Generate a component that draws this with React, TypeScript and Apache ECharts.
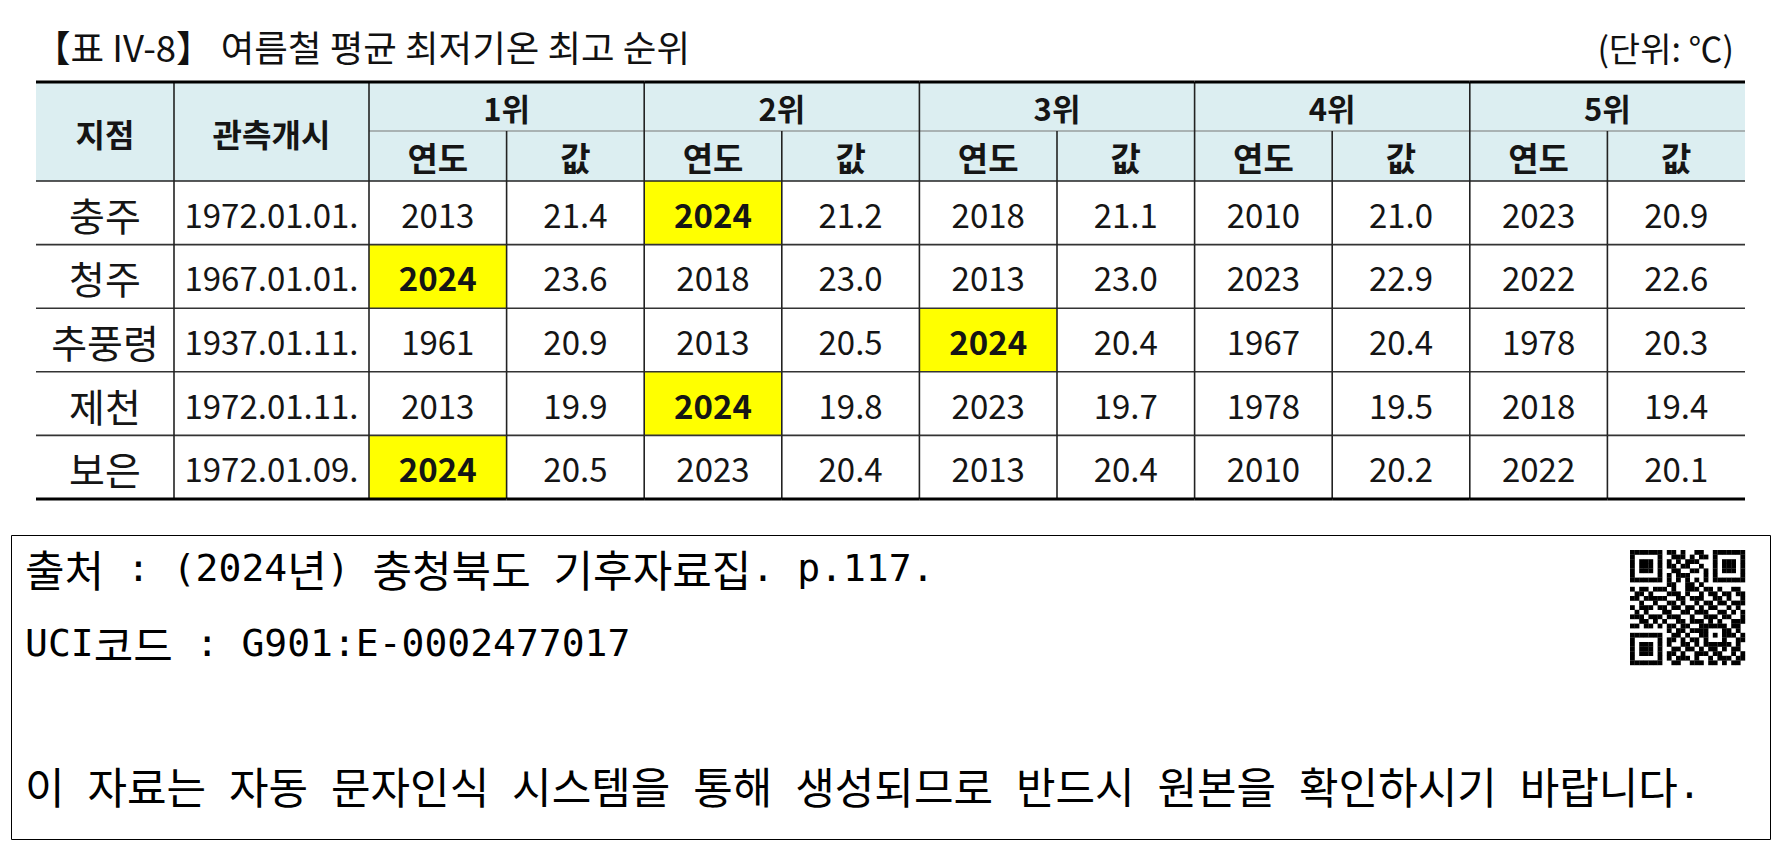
import React, { useEffect, useRef } from "react";
import * as echarts from "echarts";

// ---------- data ----------
const titleText = "【표 IV-8】 여름철 평균 최저기온 최고 순위";
const unitText = "(단위: ℃)";
const headerLabels = ["지점", "관측개시"];
const rankLabels = ["1위", "2위", "3위", "4위", "5위"];
const subHeaders = ["연도", "값"];
const stations = ["충주", "청주", "추풍령", "제천", "보은"];
const startDates = ["1972.01.01.", "1967.01.01.", "1937.01.11.", "1972.01.11.", "1972.01.09."];
const rankYears = [
  [2013, 2024, 2018, 2010, 2023],
  [2024, 2018, 2013, 2023, 2022],
  [1961, 2013, 2024, 1967, 1978],
  [2013, 2024, 2023, 1978, 2018],
  [2024, 2023, 2013, 2010, 2022],
];
const rankValues = [
  [21.4, 21.2, 21.1, 21.0, 20.9],
  [23.6, 23.0, 23.0, 22.9, 22.6],
  [20.9, 20.5, 20.4, 20.4, 20.3],
  [19.9, 19.8, 19.7, 19.5, 19.4],
  [20.5, 20.4, 20.4, 20.2, 20.1],
];
const highlightYear = 2024;
const footerSource = "출처 : (2024년) 충청북도 기후자료집. p.117.";
const footerUci = "UCI코드 : G901:E-0002477017";
const footerNote = "이 자료는 자동 문자인식 시스템을 통해 생성되므로 반드시 원본을 확인하시기 바랍니다.";
const qrRows = [
  "1111111011010011001111111",
  "1000001001110101101000001",
  "1011101010101110001011101",
  "1011101011011001001011101",
  "1011101001100110101011101",
  "1000001010111000101000001",
  "1111111010101010101111111",
  "0000000011001101000000000",
  "1011011101001110110100110",
  "0110100011101001011011011",
  "1101111100110111001101001",
  "0010010011010010110110111",
  "1011101101101101011001010",
  "0101000110011011100110101",
  "1110111011100100111011001",
  "0011010100110111010100111",
  "1101101011011001111110110",
  "0000000010110111100011010",
  "1111111001101001101011101",
  "1000001011010110100010011",
  "1011101010011010111111010",
  "1011101001101101011010110",
  "1011101011010011101100101",
  "1000001010111010010111011",
  "1111111001100111011010110",
];

// ---------- layout ----------
const TABLE_LEFT = 36;
const TABLE_TOP = 82;
const COL_W = [138, 195, 137.6, 137.6, 137.6, 137.6, 137.6, 137.6, 137.6, 137.6, 137.6, 137.6];
const HEAD1_H = 49;
const HEAD2_H = 50;
const ROW_H = 63.6;
const TABLE_W = COL_W.reduce((a, b) => a + b, 0);
const TABLE_H = HEAD1_H + HEAD2_H + ROW_H * stations.length;
const colX: number[] = [0];
COL_W.forEach((w) => colX.push(colX[colX.length - 1] + w));

const FONT = '"Noto Sans CJK KR", "Noto Sans", sans-serif';
const HEAD_FILL = "#DCEEF1";
const YELLOW = "#FFFF00";

type Cell = {
  x0: number; x1: number; y0: number; y1: number;
  text: string; fill: string; bold: boolean; size: number;
  bottomW: number; bottomC: string; top: boolean;
};

function buildCells(): Cell[] {
  const cells: Cell[] = [];
  const headBottom = HEAD1_H + HEAD2_H;
  headerLabels.forEach((t, i) => {
    cells.push({ x0: colX[i], x1: colX[i + 1], y0: 0, y1: headBottom, text: t, fill: HEAD_FILL, bold: true, size: 32, bottomW: 1.6, bottomC: "#222", top: true });
  });
  rankLabels.forEach((t, k) => {
    const c = 2 + k * 2;
    cells.push({ x0: colX[c], x1: colX[c + 2], y0: 0, y1: HEAD1_H, text: t, fill: HEAD_FILL, bold: true, size: 31, bottomW: 1.2, bottomC: "#777", top: true });
    subHeaders.forEach((s, j) => {
      cells.push({ x0: colX[c + j], x1: colX[c + j + 1], y0: HEAD1_H, y1: headBottom, text: s, fill: HEAD_FILL, bold: true, size: 33, bottomW: 1.6, bottomC: "#222", top: false });
    });
  });
  stations.forEach((st, r) => {
    const y0 = headBottom + r * ROW_H;
    const y1 = y0 + ROW_H;
    const last = r === stations.length - 1;
    const bw = last ? 3.2 : 1.6;
    const bc = last ? "#000" : "#333";
    cells.push({ x0: colX[0], x1: colX[1], y0, y1, text: st, fill: "#fff", bold: false, size: 39, bottomW: bw, bottomC: bc, top: false });
    cells.push({ x0: colX[1], x1: colX[2], y0, y1, text: startDates[r], fill: "#fff", bold: false, size: 33, bottomW: bw, bottomC: bc, top: false });
    for (let k = 0; k < 5; k++) {
      const c = 2 + k * 2;
      const yr = rankYears[r][k];
      const hl = yr === highlightYear;
      cells.push({ x0: colX[c], x1: colX[c + 1], y0, y1, text: String(yr), fill: hl ? YELLOW : "#fff", bold: hl, size: 33, bottomW: bw, bottomC: bc, top: false });
      cells.push({ x0: colX[c + 1], x1: colX[c + 2], y0, y1, text: rankValues[r][k].toFixed(1), fill: "#fff", bold: false, size: 33, bottomW: bw, bottomC: bc, top: false });
    }
  });
  return cells;
}

// split a string into Hangul / non-Hangul runs for rich text
function toRich(s: string): string {
  return s
    .split(/([\uAC00-\uD7A3\u3131-\u318E]+)/)
    .filter((r) => r.length > 0)
    .map((r) => (/[\uAC00-\uD7A3]/.test(r) ? `{k|${r}}` : `{a|${r}}`))
    .join("");
}
const footRich = {
  k: { fontSize: 43, fontFamily: '"Noto Sans CJK KR"', fill: "#000", verticalAlign: "middle" },
  a: { fontSize: 38, fontFamily: '"DejaVu Sans Mono"', fill: "#000", verticalAlign: "middle" },
};

export default function App() {
  const ref = useRef<HTMLDivElement>(null);
  useEffect(() => {
    if (!ref.current) return;
    const chart = echarts.init(ref.current, null, { renderer: "svg" });
    const cells = buildCells();

    const qrModule = 4.6;
    const qrX = 1630;
    const qrY = 550;
    const qrChildren: any[] = [];
    qrRows.forEach((row, r) => {
      for (let c = 0; c < row.length; c++) {
        if (row[c] === "1") {
          qrChildren.push({ type: "rect", shape: { x: qrX + c * qrModule, y: qrY + r * qrModule, width: qrModule + 0.2, height: qrModule + 0.2 }, style: { fill: "#000" } });
        }
      }
    });

    chart.setOption({
      animation: false,
      backgroundColor: "#ffffff",
      grid: { left: TABLE_LEFT, top: TABLE_TOP, width: TABLE_W, height: TABLE_H },
      xAxis: { type: "value", min: 0, max: TABLE_W, show: false },
      yAxis: { type: "value", min: 0, max: TABLE_H, inverse: true, show: false },
      series: [
        {
          type: "custom",
          clip: false,
          silent: true,
          encode: { x: [0, 2], y: [1, 3] },
          data: cells.map((c) => [c.x0, c.y0, c.x1, c.y1]),
          renderItem: (params: any, api: any) => {
            const c = cells[params.dataIndex];
            const p0 = api.coord([c.x0, c.y0]);
            const p1 = api.coord([c.x1, c.y1]);
            const x = p0[0];
            const y = p0[1];
            const w = p1[0] - p0[0];
            const h = p1[1] - p0[1];
            const children: any[] = [
              { type: "rect", shape: { x, y, width: w, height: h }, style: { fill: c.fill }, z2: 0 },
              {
                type: "text",
                z2: 30,
                style: {
                  text: c.text, x: x + w / 2, y: y + h / 2 + 1,
                  align: "center", verticalAlign: "middle",
                  fontSize: c.size, fontWeight: c.bold ? "bold" : "normal",
                  fontFamily: FONT, fill: "#151515",
                },
              },
              { type: "line", z2: c.bottomW > 2 ? 22 : c.bottomC === "#777" ? 11 : 12, shape: { x1: x, y1: y + h, x2: x + w, y2: y + h }, style: { stroke: c.bottomC, lineWidth: c.bottomW } },
            ];
            if (c.x0 > 0) {
              children.push({ type: "line", z2: 15, shape: { x1: x, y1: y, x2: x, y2: y + h }, style: { stroke: "#222", lineWidth: 1.6 } });
            }
            if (c.top) {
              children.push({ type: "line", z2: 22, shape: { x1: x, y1: y, x2: x + w, y2: y }, style: { stroke: "#000", lineWidth: 3.2 } });
            }
            return { type: "group", children };
          },
        },
      ],
      graphic: [
        { type: "text", x: 34, y: 46, style: { text: titleText, fontSize: 36.5, fontFamily: FONT, fill: "#111", verticalAlign: "middle" } },
        { type: "text", x: 1734, y: 47, style: { text: unitText, fontSize: 34, fontFamily: FONT, fill: "#111", align: "right", verticalAlign: "middle" } },
        { type: "rect", shape: { x: 11.5, y: 535.5, width: 1759, height: 304 }, style: { fill: "none", stroke: "#000", lineWidth: 1 } },
        { type: "text", x: 25, y: 568, style: { text: toRich(footerSource), rich: footRich, verticalAlign: "middle" } },
        { type: "text", x: 25, y: 643, style: { text: toRich(footerUci), rich: footRich, verticalAlign: "middle" } },
        { type: "text", x: 25, y: 785, style: { text: toRich(footerNote), rich: footRich, verticalAlign: "middle" } },
        { type: "group", children: qrChildren },
      ],
    });
    return () => chart.dispose();
  }, []);
  return <div ref={ref} style={{ position: "fixed", left: 0, top: 0, width: 1780, height: 845, background: "#fff" }} />;
}
